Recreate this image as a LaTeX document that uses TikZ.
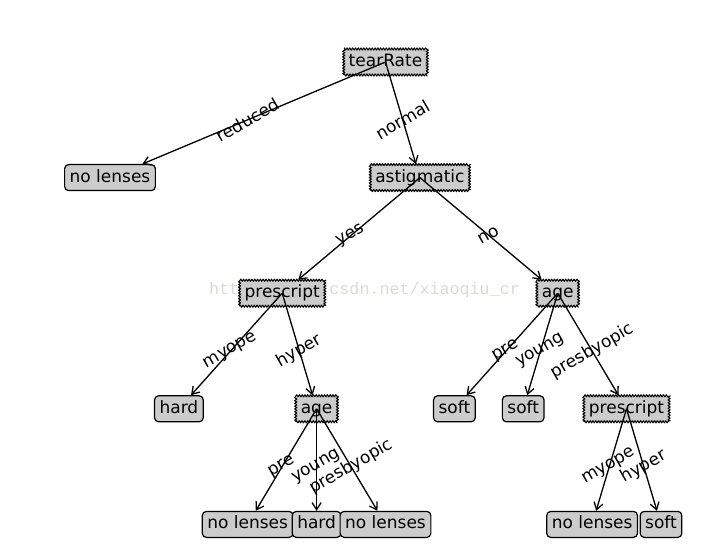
\documentclass[tikz,border=0pt]{standalone}
\usepackage{fontspec}
\setmainfont{DejaVu Sans}
\newfontfamily\markfont{Liberation Mono}
\usepackage{tikz}
\usetikzlibrary{arrows.meta,decorations.pathmorphing}
\tikzset{
  decision/.style={draw, fill=black!20, line width=1pt, line join=round, inner xsep=5pt,
    inner ysep=5pt, text height=12.5pt, text depth=3.5pt, decorate,
    decoration={zigzag, segment length=2.8pt, amplitude=1.1pt}},
  leaf/.style={draw, fill=black!20, line width=1.2pt, rounded corners=4pt, inner xsep=5pt,
    inner ysep=5pt, text height=12.5pt, text depth=3.5pt},
  arr/.style={line width=1.3pt, -{Straight Barb[length=7pt,width=9pt]}},
  lbl/.style={rotate=30, inner sep=0pt}
}
\begin{document}
\begin{tikzpicture}[x=1pt, y=-1pt, font=\fontsize{17}{20}\selectfont]
      \useasboundingbox (0, 0) rectangle (710, 553);
      % watermark behind the tree
      \node (mark) [anchor=west, inner sep=0pt, text=black!18!yellow!5!white!85!black]
            at (209, 290) {\markfont\fontsize{16.7}{18}\selectfont http://blog.csdn.net/xiaoqiu\_cr};
      \node (tear) [decision] at (385.5, 62) {tearRate};
      \node (lens1) [leaf] at (110, 177.6) {no lenses};
      \node (astig) [decision] at (419.9, 177.6) {astigmatic};
      \node (pres1) [decision] at (282.2, 293.2) {prescript};
      \node (age1) [decision] at (557.7, 293.2) {age};
      \node (hard1) [leaf] at (178.9, 408.8) {hard};
      \node (age2) [decision] at (316.6, 408.8) {age};
      \node (soft1) [leaf] at (454.4, 408.8) {soft};
      \node (soft2) [leaf] at (523.2, 408.8) {soft};
      \node (pres2) [decision] at (626.5, 408.8) {prescript};
      \node (lens2) [leaf] at (247.7, 524.4) {no lenses};
      \node (hard2) [leaf] at (316.6, 524.4) {hard};
      \node (lens3) [leaf] at (385.5, 524.4) {no lenses};
      \node (lens4) [leaf] at (592.1, 524.4) {no lenses};
      \node (soft3) [leaf] at (661, 524.4) {soft};
      % branches
      \draw[arr] (tear.center) -- (lens1);
      \draw[arr] (tear.center) -- (astig);
      \draw[arr] (astig.center) -- (pres1);
      \draw[arr] (astig.center) -- (age1);
      \draw[arr] (pres1.center) -- (hard1);
      \draw[arr] (pres1.center) -- (age2);
      \draw[arr] (age2.center) -- (lens2);
      \draw[arr] (age2.center) -- (hard2);
      \draw[arr] (age2.center) -- (lens3);
      \draw[arr] (age1.center) -- (soft1);
      \draw[arr] (age1.center) -- (soft2);
      \draw[arr] (age1.center) -- (pres2);
      \draw[arr] (pres2.center) -- (lens4);
      \draw[arr] (pres2.center) -- (soft3);
      % branch labels
      \path (tear.center) -- (lens1.center) node [midway, lbl] {reduced};
      \path (tear.center) -- (astig.center) node [midway, lbl] {normal};
      \path (astig.center) -- (pres1.center) node [midway, lbl] {yes};
      \path (astig.center) -- (age1.center) node [midway, lbl] {no};
      \path (pres1.center) -- (hard1.center) node [midway, lbl] {myope};
      \path (pres1.center) -- (age2.center) node [midway, lbl] {hyper};
      \path (age2.center) -- (lens2.center) node [midway, lbl] {pre};
      \path (age2.center) -- (hard2.center) node [midway, lbl] {young};
      \path (age2.center) -- (lens3.center) node [midway, lbl] {presbyopic};
      \path (age1.center) -- (soft1.center) node [midway, lbl] {pre};
      \path (age1.center) -- (soft2.center) node [midway, lbl] {young};
      \path (age1.center) -- (pres2.center) node [midway, lbl] {presbyopic};
      \path (pres2.center) -- (lens4.center) node [midway, lbl] {myope};
      \path (pres2.center) -- (soft3.center) node [midway, lbl] {hyper};
\end{tikzpicture}
\end{document}
